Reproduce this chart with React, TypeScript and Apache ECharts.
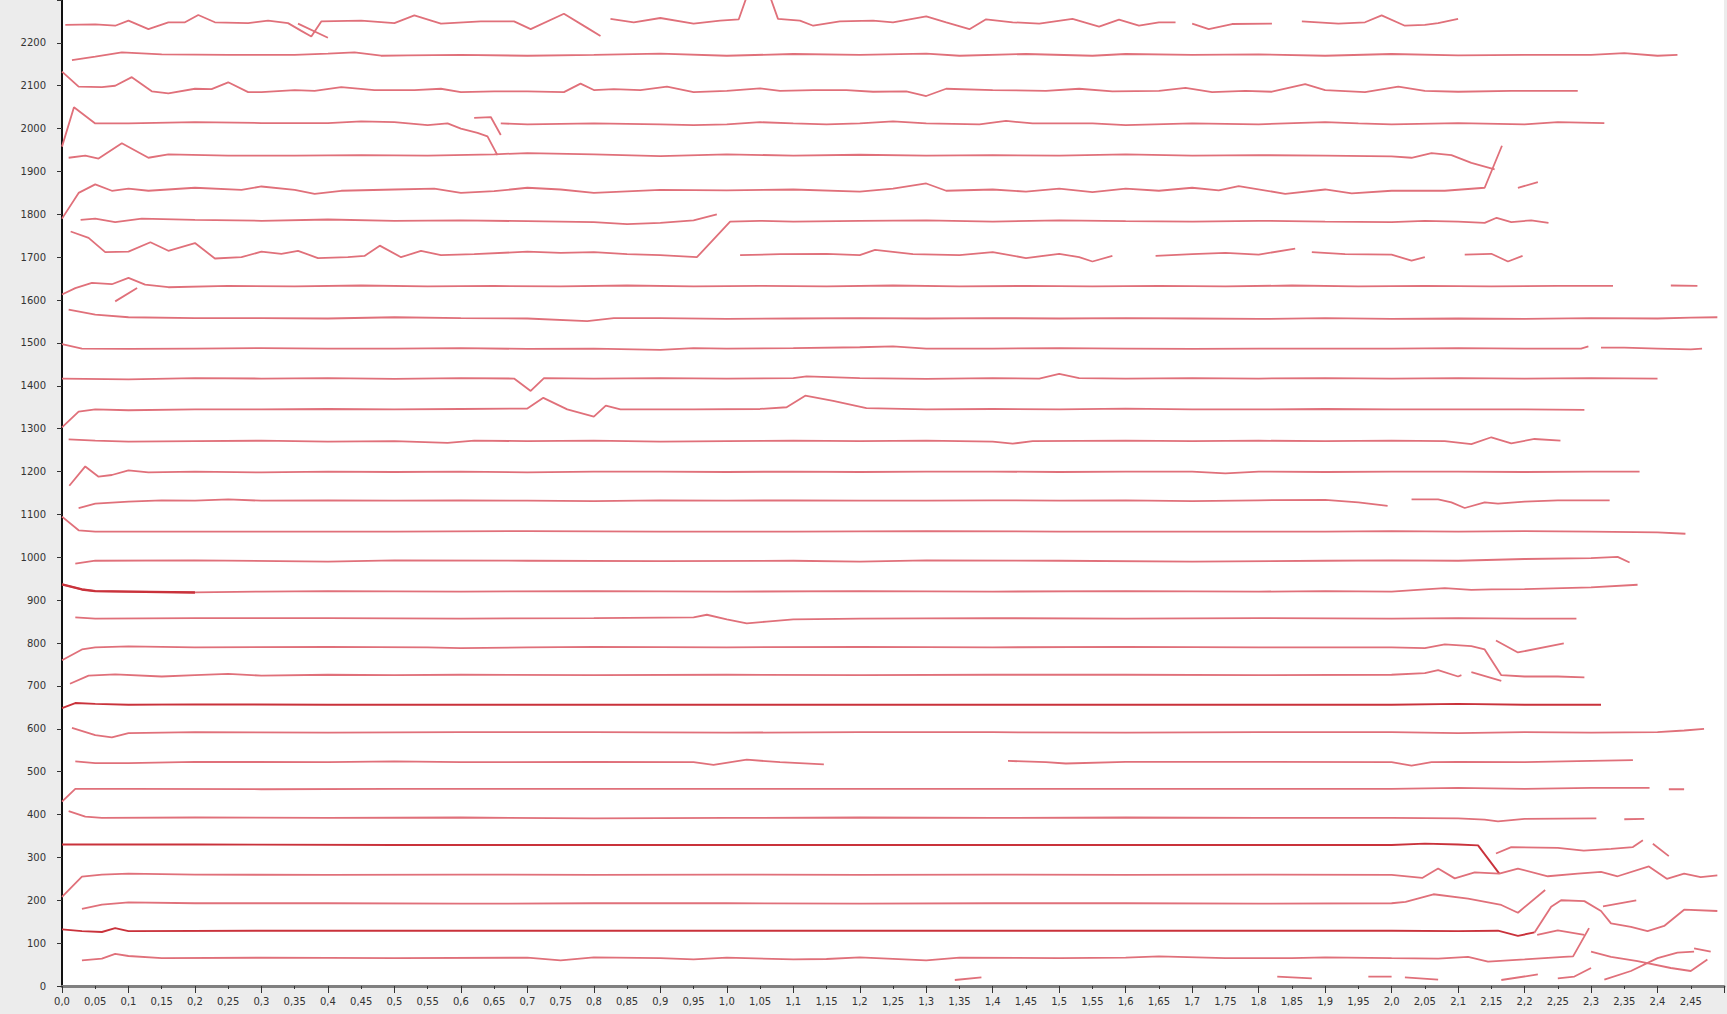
import { useEffect, useRef } from "react";
import * as echarts from "echarts";

type Pt = [number, number] | null;

// Tick labels (comma decimal separator)
const xLabels = [
  "0,0", "0,05", "0,1", "0,15", "0,2", "0,25", "0,3", "0,35", "0,4", "0,45",
  "0,5", "0,55", "0,6", "0,65", "0,7", "0,75", "0,8", "0,85", "0,9", "0,95",
  "1,0", "1,05", "1,1", "1,15", "1,2", "1,25", "1,3", "1,35", "1,4", "1,45",
  "1,5", "1,55", "1,6", "1,65", "1,7", "1,75", "1,8", "1,85", "1,9", "1,95",
  "2,0", "2,05", "2,1", "2,15", "2,2", "2,25", "2,3", "2,35", "2,4", "2,45",
];
const yLabels = [
  "0", "100", "200", "300", "400", "500", "600", "700", "800", "900", "1000", "1100",
  "1200", "1300", "1400", "1500", "1600", "1700", "1800", "1900", "2000", "2100", "2200",
];

// Traces, top to bottom. null breaks a trace.
const row01: Pt[] = [[0.005,2242],[0.05,2243],[0.08,2240],[0.1,2252],[0.13,2232],[0.16,2248],[0.185,2248],[0.205,2265],[0.23,2248],[0.28,2246],[0.31,2252],[0.34,2246],[0.36,2228],[0.375,2215],[0.39,2250],[0.45,2252],[0.5,2246],[0.53,2264],[0.57,2245],[0.63,2250],[0.68,2250],[0.705,2232],[0.755,2268],[0.79,2235],[0.81,2216],null,[0.825,2256],[0.86,2248],[0.9,2258],[0.95,2245],[0.99,2252],[1.018,2255],[1.035,2330],[1.06,2330],[1.077,2256],[1.11,2252],[1.13,2240],[1.17,2250],[1.22,2252],[1.25,2248],[1.3,2262],[1.33,2248],[1.365,2232],[1.39,2255],[1.43,2248],[1.47,2245],[1.52,2256],[1.56,2238],[1.59,2254],[1.62,2240],[1.65,2248],[1.675,2248],null,[1.7,2245],[1.725,2232],[1.76,2244],[1.82,2245],null,[1.865,2250],[1.92,2245],[1.96,2248],[1.985,2264],[2.02,2240],[2.05,2242],[2.07,2246],[2.1,2256]];
const row02: Pt[] = [[0.015,2160],[0.05,2168],[0.09,2178],[0.15,2173],[0.25,2172],[0.35,2172],[0.4,2175],[0.44,2178],[0.48,2170],[0.52,2171],[0.6,2172],[0.7,2170],[0.8,2172],[0.9,2175],[1.0,2170],[1.1,2174],[1.2,2172],[1.3,2175],[1.35,2170],[1.45,2174],[1.55,2170],[1.6,2174],[1.7,2172],[1.8,2173],[1.9,2170],[2.0,2174],[2.1,2171],[2.2,2172],[2.3,2172],[2.35,2176],[2.4,2170],[2.43,2172]];
const row03: Pt[] = [[0.0,2133],[0.025,2098],[0.06,2097],[0.08,2100],[0.105,2120],[0.135,2087],[0.16,2082],[0.2,2093],[0.225,2092],[0.25,2108],[0.28,2085],[0.3,2085],[0.35,2090],[0.38,2088],[0.42,2097],[0.47,2090],[0.53,2090],[0.57,2093],[0.6,2085],[0.65,2087],[0.7,2087],[0.755,2085],[0.78,2105],[0.8,2090],[0.83,2092],[0.87,2090],[0.91,2098],[0.95,2085],[1.0,2088],[1.05,2094],[1.08,2088],[1.13,2090],[1.18,2090],[1.22,2086],[1.27,2087],[1.3,2076],[1.33,2093],[1.4,2090],[1.48,2088],[1.53,2093],[1.58,2087],[1.65,2088],[1.69,2095],[1.73,2085],[1.78,2088],[1.82,2086],[1.87,2104],[1.9,2090],[1.96,2085],[2.01,2098],[2.05,2088],[2.1,2086],[2.18,2088],[2.28,2088]];
const row04: Pt[] = [[0.0,1958],[0.018,2050],[0.05,2012],[0.1,2012],[0.2,2015],[0.3,2013],[0.4,2013],[0.45,2017],[0.5,2015],[0.55,2008],[0.58,2012],[0.6,2000],[0.625,1990],[0.64,1982],[0.655,1938],null,[0.62,2025],[0.645,2027],[0.66,1985],null,[0.66,2012],[0.7,2010],[0.8,2012],[0.9,2010],[0.95,2008],[1.0,2010],[1.05,2015],[1.1,2012],[1.15,2010],[1.2,2012],[1.25,2017],[1.3,2012],[1.38,2010],[1.42,2018],[1.46,2012],[1.55,2012],[1.6,2008],[1.7,2012],[1.8,2010],[1.9,2015],[1.95,2012],[2.0,2010],[2.1,2013],[2.2,2010],[2.25,2015],[2.32,2013]];
const row05: Pt[] = [[0.01,1932],[0.035,1937],[0.055,1930],[0.09,1966],[0.13,1932],[0.16,1940],[0.25,1937],[0.35,1937],[0.45,1938],[0.55,1937],[0.65,1940],[0.7,1943],[0.8,1940],[0.9,1936],[1.0,1940],[1.1,1937],[1.2,1939],[1.3,1937],[1.4,1938],[1.5,1937],[1.6,1940],[1.7,1937],[1.8,1938],[1.9,1937],[2.0,1935],[2.03,1932],[2.06,1943],[2.09,1938],[2.12,1920],[2.155,1905]];
const row06: Pt[] = [[0.0,1790],[0.025,1850],[0.05,1870],[0.075,1855],[0.1,1860],[0.13,1855],[0.2,1862],[0.27,1857],[0.3,1865],[0.35,1857],[0.38,1848],[0.42,1855],[0.5,1858],[0.56,1860],[0.6,1850],[0.65,1854],[0.7,1862],[0.75,1858],[0.8,1850],[0.9,1857],[1.0,1856],[1.1,1858],[1.2,1853],[1.25,1860],[1.3,1872],[1.33,1855],[1.4,1858],[1.45,1853],[1.5,1860],[1.55,1852],[1.6,1860],[1.65,1855],[1.7,1862],[1.74,1856],[1.77,1866],[1.84,1848],[1.9,1858],[1.94,1849],[2.0,1855],[2.08,1855],[2.14,1862],[2.166,1960]];
const row07: Pt[] = [[0.028,1787],[0.05,1790],[0.08,1782],[0.12,1790],[0.2,1787],[0.3,1785],[0.4,1788],[0.5,1785],[0.6,1786],[0.7,1784],[0.8,1782],[0.85,1777],[0.9,1780],[0.95,1786],[0.985,1800],null,[1.02,1705],[1.08,1707],[1.15,1708],[1.2,1705],[1.223,1717],[1.28,1707],[1.35,1705],[1.4,1712],[1.45,1698],[1.5,1708],[1.53,1700],[1.55,1690],[1.58,1703],null,[1.645,1703],[1.7,1707],[1.75,1710],[1.8,1706],[1.855,1720],null,[1.88,1712],[1.93,1707],[2.0,1706],[2.03,1692],[2.05,1700],null,[2.11,1706],[2.15,1708],[2.175,1690],[2.197,1703]];
const row08: Pt[] = [[0.013,1760],[0.04,1745],[0.065,1712],[0.1,1713],[0.133,1735],[0.16,1715],[0.2,1733],[0.23,1697],[0.27,1700],[0.3,1713],[0.33,1708],[0.355,1715],[0.385,1698],[0.43,1700],[0.455,1703],[0.478,1727],[0.51,1700],[0.54,1715],[0.57,1705],[0.62,1707],[0.7,1713],[0.75,1710],[0.8,1712],[0.85,1707],[0.9,1705],[0.955,1700],[1.005,1783],[1.05,1785],[1.1,1783],[1.2,1785],[1.3,1786],[1.4,1783],[1.5,1786],[1.6,1784],[1.7,1783],[1.8,1785],[1.9,1783],[2.0,1782],[2.05,1785],[2.1,1783],[2.14,1780],[2.158,1792],[2.18,1782],[2.21,1786],[2.236,1780]];
const row09: Pt[] = [[0.0,1613],[0.02,1628],[0.045,1640],[0.075,1637],[0.1,1652],[0.125,1636],[0.16,1630],[0.25,1633],[0.35,1632],[0.45,1634],[0.55,1632],[0.65,1633],[0.75,1632],[0.85,1634],[0.95,1632],[1.05,1633],[1.15,1632],[1.25,1634],[1.35,1632],[1.45,1633],[1.55,1632],[1.65,1633],[1.75,1632],[1.85,1634],[1.95,1632],[2.05,1633],[2.15,1632],[2.25,1633],[2.333,1633],null,[2.42,1634],[2.46,1633]];
const row10: Pt[] = [[0.01,1578],[0.05,1566],[0.1,1560],[0.2,1558],[0.3,1558],[0.4,1557],[0.5,1560],[0.6,1558],[0.7,1557],[0.79,1551],[0.83,1558],[0.9,1558],[1.0,1556],[1.1,1557],[1.2,1558],[1.3,1557],[1.4,1558],[1.5,1557],[1.6,1558],[1.7,1557],[1.8,1556],[1.9,1558],[2.0,1556],[2.1,1557],[2.2,1556],[2.3,1558],[2.4,1557],[2.45,1559],[2.49,1560]];
const row11: Pt[] = [[0.0,1497],[0.03,1487],[0.1,1486],[0.2,1487],[0.3,1488],[0.4,1487],[0.5,1487],[0.6,1488],[0.7,1486],[0.8,1487],[0.9,1484],[0.95,1488],[1.0,1487],[1.1,1488],[1.2,1490],[1.25,1492],[1.3,1487],[1.4,1487],[1.5,1488],[1.6,1487],[1.7,1486],[1.8,1487],[1.9,1487],[2.0,1487],[2.1,1488],[2.2,1487],[2.285,1487],[2.296,1492],null,[2.315,1489],[2.35,1489],[2.4,1487],[2.45,1485],[2.467,1487]];
const row12: Pt[] = [[0.0,1417],[0.1,1415],[0.2,1418],[0.3,1417],[0.4,1418],[0.5,1416],[0.6,1418],[0.68,1417],[0.705,1388],[0.725,1418],[0.8,1417],[0.9,1418],[1.0,1417],[1.1,1418],[1.12,1422],[1.2,1418],[1.3,1416],[1.4,1418],[1.47,1417],[1.5,1428],[1.53,1418],[1.6,1417],[1.7,1418],[1.8,1417],[1.9,1418],[2.0,1417],[2.1,1418],[2.2,1417],[2.3,1418],[2.4,1417]];
const row13: Pt[] = [[0.0,1303],[0.025,1340],[0.05,1345],[0.1,1343],[0.2,1345],[0.3,1345],[0.4,1346],[0.5,1345],[0.6,1346],[0.7,1347],[0.724,1372],[0.76,1345],[0.8,1328],[0.818,1354],[0.84,1345],[0.95,1345],[1.05,1346],[1.09,1350],[1.118,1377],[1.16,1365],[1.21,1348],[1.3,1345],[1.4,1346],[1.5,1345],[1.6,1347],[1.7,1345],[1.8,1345],[1.9,1346],[2.0,1345],[2.1,1345],[2.2,1345],[2.29,1344]];
const row14: Pt[] = [[0.01,1275],[0.05,1272],[0.1,1270],[0.2,1271],[0.3,1272],[0.4,1270],[0.5,1271],[0.58,1267],[0.62,1272],[0.7,1271],[0.8,1272],[0.9,1270],[1.0,1271],[1.1,1272],[1.2,1271],[1.3,1272],[1.4,1270],[1.43,1265],[1.46,1271],[1.6,1272],[1.7,1271],[1.8,1272],[1.9,1271],[2.0,1272],[2.08,1271],[2.12,1264],[2.15,1280],[2.18,1266],[2.215,1276],[2.254,1272]];
const row15: Pt[] = [[0.011,1167],[0.035,1212],[0.055,1188],[0.075,1192],[0.1,1203],[0.13,1198],[0.2,1200],[0.3,1198],[0.4,1200],[0.5,1199],[0.6,1200],[0.7,1198],[0.8,1200],[0.9,1200],[1.0,1199],[1.1,1200],[1.2,1199],[1.3,1200],[1.4,1200],[1.5,1199],[1.6,1200],[1.7,1200],[1.75,1196],[1.8,1200],[1.9,1199],[2.0,1200],[2.1,1200],[2.2,1199],[2.3,1200],[2.373,1200]];
const row16: Pt[] = [[0.025,1115],[0.05,1125],[0.1,1130],[0.15,1133],[0.2,1132],[0.25,1135],[0.3,1132],[0.4,1133],[0.5,1132],[0.6,1133],[0.7,1132],[0.8,1131],[0.9,1133],[1.0,1132],[1.1,1133],[1.2,1132],[1.3,1132],[1.4,1133],[1.5,1132],[1.6,1133],[1.7,1131],[1.8,1133],[1.9,1134],[1.95,1128],[1.994,1120],null,[2.03,1135],[2.07,1135],[2.09,1128],[2.11,1115],[2.14,1128],[2.16,1125],[2.2,1130],[2.25,1133],[2.328,1133]];
const row17: Pt[] = [[0.0,1095],[0.025,1063],[0.05,1060],[0.15,1060],[0.3,1060],[0.5,1060],[0.7,1061],[0.9,1060],[1.1,1060],[1.3,1061],[1.5,1060],[1.7,1060],[1.9,1060],[2.0,1061],[2.1,1060],[2.2,1061],[2.3,1060],[2.4,1058],[2.442,1055]];
const row18: Pt[] = [[0.02,985],[0.05,992],[0.2,993],[0.4,990],[0.5,993],[0.7,992],[0.9,991],[1.1,992],[1.2,990],[1.3,993],[1.5,992],[1.7,990],[1.9,992],[2.0,993],[2.1,992],[2.2,996],[2.3,998],[2.34,1001],[2.358,988]];
const row19: Pt[] = [[0.0,937],[0.03,925],[0.05,921],[0.1,920],[0.2,918],[0.3,920],[0.4,921],[0.6,920],[0.8,921],[1.0,920],[1.2,921],[1.4,920],[1.6,921],[1.8,920],[1.9,921],[2.0,920],[2.05,925],[2.08,928],[2.12,924],[2.15,925],[2.2,926],[2.3,930],[2.37,936]];
const row20: Pt[] = [[0.02,860],[0.05,857],[0.2,858],[0.4,858],[0.6,857],[0.8,858],[0.95,860],[0.97,866],[1.0,855],[1.03,846],[1.06,850],[1.1,855],[1.2,857],[1.4,858],[1.6,857],[1.8,858],[2.0,857],[2.1,858],[2.2,857],[2.278,857]];
const row21: Pt[] = [[0.0,760],[0.03,785],[0.05,790],[0.1,792],[0.2,790],[0.4,791],[0.55,790],[0.6,788],[0.7,790],[0.8,791],[1.0,790],[1.2,791],[1.4,790],[1.6,791],[1.8,790],[2.0,790],[2.05,788],[2.08,797],[2.12,793],[2.14,785],[2.165,725],[2.2,722],[2.25,722],[2.29,720]];
const row22: Pt[] = [[0.012,705],[0.04,724],[0.08,727],[0.15,722],[0.2,725],[0.25,728],[0.3,724],[0.4,726],[0.5,725],[0.6,726],[0.8,725],[1.0,726],[1.2,725],[1.4,726],[1.6,726],[1.8,725],[2.0,726],[2.05,730],[2.07,737],[2.1,722],[2.105,725]];
const row23: Pt[] = [[0.0,648],[0.02,660],[0.05,658],[0.1,656],[0.2,657],[0.4,656],[0.6,656],[0.8,656],[1.0,656],[1.2,656],[1.4,656],[1.6,656],[1.8,656],[2.0,656],[2.1,658],[2.2,656],[2.315,656]];
const row24: Pt[] = [[0.015,602],[0.05,585],[0.075,580],[0.1,590],[0.2,592],[0.4,591],[0.6,592],[0.8,592],[1.0,591],[1.2,592],[1.4,592],[1.6,591],[1.8,592],[2.0,592],[2.1,590],[2.2,592],[2.3,591],[2.4,592],[2.44,596],[2.47,600]];
const row25: Pt[] = [[0.02,524],[0.05,520],[0.1,520],[0.2,523],[0.4,522],[0.5,524],[0.6,522],[0.8,523],[0.95,522],[0.98,516],[1.03,528],[1.08,522],[1.146,517],null,[1.423,525],[1.48,522],[1.51,519],[1.6,523],[1.8,523],[2.0,522],[2.03,514],[2.06,522],[2.1,523],[2.2,522],[2.3,525],[2.363,527]];
const row26: Pt[] = [[0.0,430],[0.02,460],[0.1,460],[0.3,459],[0.5,460],[0.8,460],[1.0,460],[1.2,460],[1.4,460],[1.6,460],[1.8,460],[2.0,460],[2.1,462],[2.2,460],[2.3,462],[2.388,462]];
const row27: Pt[] = [[0.01,408],[0.035,395],[0.06,392],[0.2,393],[0.4,392],[0.6,393],[0.8,391],[1.0,392],[1.2,393],[1.4,392],[1.6,393],[1.8,392],[2.0,392],[2.1,391],[2.14,388],[2.16,384],[2.2,390],[2.308,391]];
const row28: Pt[] = [[0.0,330],[0.2,330],[0.5,329],[1.0,329],[1.5,329],[2.0,329],[2.05,332],[2.1,330],[2.13,328],[2.162,262]];
const row29: Pt[] = [[0.0,208],[0.03,255],[0.06,260],[0.1,262],[0.2,260],[0.4,259],[0.6,260],[0.8,259],[1.0,260],[1.2,259],[1.4,260],[1.6,259],[1.8,260],[2.0,259],[2.046,252],[2.07,274],[2.095,251],[2.125,265],[2.162,262],[2.19,274],[2.235,256],[2.28,262],[2.315,266],[2.34,256],[2.387,279],[2.414,250],[2.44,262],[2.465,254],[2.49,258]];
const row30: Pt[] = [[0.03,180],[0.06,190],[0.1,195],[0.2,193],[0.4,193],[0.6,192],[0.8,193],[1.0,193],[1.2,192],[1.4,193],[1.6,193],[1.8,192],[2.0,193],[2.021,196],[2.063,214],[2.115,204],[2.165,189],[2.19,171],[2.231,224]];
const row31: Pt[] = [[0.0,132],[0.03,128],[0.06,126],[0.08,135],[0.1,128],[0.3,129],[0.6,129],[1.0,129],[1.4,129],[1.8,129],[2.0,129],[2.1,128],[2.16,129],[2.19,117],[2.215,125]];
const row31Tail: Pt[] = [[2.215,125],[2.24,185],[2.255,200],[2.29,198],[2.315,175],[2.33,146],[2.36,138],[2.385,128],[2.41,140],[2.44,178],[2.49,175]];
const row32: Pt[] = [[0.03,60],[0.06,64],[0.08,75],[0.1,70],[0.15,65],[0.3,66],[0.5,65],[0.7,66],[0.75,60],[0.8,67],[0.9,65],[0.95,62],[1.0,66],[1.1,62],[1.15,63],[1.2,67],[1.3,60],[1.35,66],[1.5,65],[1.6,66],[1.65,69],[1.75,65],[1.85,65],[1.9,67],[2.0,65],[2.07,64],[2.115,68],[2.145,57],[2.2,62],[2.259,68],[2.273,69],[2.297,135]];
const fragments: Pt[] = [
  [0.355,2245],[0.4,2212],null,
  [0.08,1597],[0.113,1628],null,
  [2.19,1862],[2.22,1875],null,
  [2.157,806],[2.19,778],[2.259,799],null,
  [2.12,732],[2.165,712],null,
  [2.417,459],[2.44,459],null,
  [2.35,389],[2.38,390],null,
  [2.157,309],[2.18,324],[2.25,322],[2.289,316],[2.33,320],[2.363,324],[2.378,340],null,
  [2.393,332],[2.417,303],null,
  [2.219,119],[2.25,130],[2.29,119],null,
  [2.318,186],[2.368,200],null,
  [2.3,80],[2.33,68],[2.37,58],[2.42,42],[2.45,35],[2.475,62],null,
  [2.32,15],[2.36,35],[2.4,65],[2.43,78],[2.455,80],null,
  [2.455,88],[2.48,80],null,
  [1.343,14],[1.383,20],null,
  [1.828,22],[1.88,18],null,
  [1.965,22],[2.0,22],null,
  [2.02,20],[2.07,15],null,
  [2.165,14],[2.22,27],null,
  [2.25,18],[2.275,22],[2.3,42],
];

const rows: Pt[][] = [
  row01, row02, row03, row04, row05, row06, row07, row08, row09, row10, row11,
  row12, row13, row14, row15, row16, row17, row18, row19, row20, row21, row22,
  row23, row24, row25, row26, row27, row28, row29, row30, row31, row32,
  row31Tail, fragments,
];

const LIGHT = "#e0707a";
const DARK = "#c9323b";
const darkRows = [22, 27, 30]; // rows 23, 28 and 31

const toData = (pts: Pt[]) => pts.map((p) => (p === null ? ["-", "-"] : p));

export default function App() {
  const ref = useRef<HTMLDivElement>(null);

  useEffect(() => {
    if (!ref.current) return;
    const chart = echarts.init(ref.current, undefined, { renderer: "svg" });

    const font = { fontFamily: "DejaVu Sans", fontSize: 10, color: "#333" };

    const traceSeries = rows.map((pts, i) => ({
      type: "line" as const,
      data: toData(pts),
      symbol: "none",
      showSymbol: false,
      connectNulls: false,
      silent: true,
      clip: true,
      lineStyle: {
        color: darkRows.includes(i) ? DARK : LIGHT,
        width: darkRows.includes(i) ? 1.9 : 1.8,
      },
    }));

    // darker, heavier start of the 920 trace
    const headSeries = {
      type: "line" as const,
      data: toData(row19.filter((p) => p !== null && p[0] <= 0.2)),
      symbol: "none",
      showSymbol: false,
      silent: true,
      lineStyle: { color: DARK, width: 2.4 },
    };

    chart.setOption({
      animation: false,
      backgroundColor: "#ececec",
      grid: {
        left: 62,
        right: -16,
        top: -2,
        bottom: 28,
        show: true,
        backgroundColor: "#ffffff",
        borderWidth: 0,
      },
      xAxis: [
        {
          type: "value",
          min: 0,
          max: 2.5,
          interval: 0.05,
          position: "bottom",
          axisLine: { show: true, onZero: false, lineStyle: { color: "#808080", width: 3 } },
          axisTick: { show: true, length: 3, lineStyle: { color: "#333", width: 1 } },
          axisLabel: {
            ...font,
            margin: 10,
            formatter: (v: number) => xLabels[Math.round(v / 0.05)] ?? "",
          },
          splitLine: { show: false },
        },
        {
          type: "value",
          min: 0,
          max: 2.5,
          interval: 0.1,
          position: "bottom",
          axisLine: { show: false },
          axisTick: { show: true, length: 7, lineStyle: { color: "#333", width: 1 } },
          axisLabel: { show: false },
          splitLine: { show: false },
        },
      ],
      yAxis: {
        type: "value",
        min: 0,
        max: 2300,
        interval: 100,
        axisLine: { show: true, lineStyle: { color: "#111", width: 2 } },
        axisTick: { show: true, length: 5, lineStyle: { color: "#333", width: 1 } },
        axisLabel: {
          ...font,
          margin: 16,
          formatter: (v: number) => yLabels[Math.round(v / 100)] ?? "",
        },
        splitLine: { show: false },
      },
      series: [...traceSeries, headSeries],
    });

    return () => chart.dispose();
  }, []);

  return (
    <div
      ref={ref}
      style={{ position: "fixed", left: 0, top: 0, width: 1727, height: 1014 }}
    />
  );
}
